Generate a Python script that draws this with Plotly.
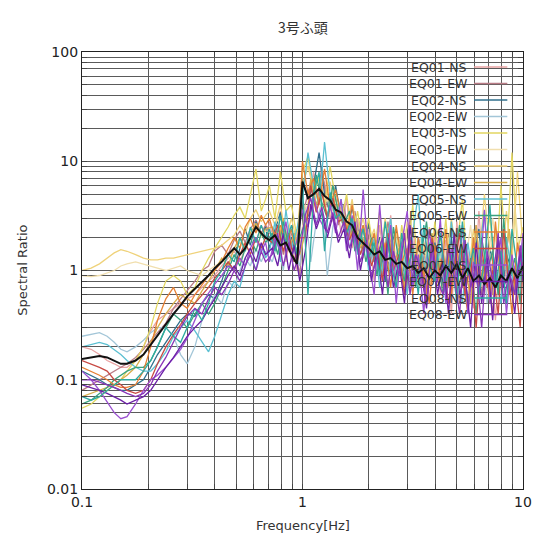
import plotly.graph_objects as go

# ---------------- data ----------------
F_LOW = [0.100, 0.110, 0.120, 0.130, 0.140, 0.150, 0.160, 0.175, 0.190, 0.205,
         0.220, 0.240, 0.260, 0.280, 0.300, 0.325, 0.350, 0.375, 0.400, 0.430,
         0.460, 0.490, 0.520, 0.550, 0.580, 0.615, 0.650, 0.680]
F_HIGH_A = [0.708, 0.750, 0.794, 0.841, 0.891, 0.944, 1.000, 1.059, 1.122, 1.189,
            1.259, 1.334, 1.413, 1.496, 1.585, 1.679, 1.778, 1.884, 1.995, 2.113,
            2.239, 2.371, 2.512, 2.661, 2.818, 2.985, 3.162, 3.350, 3.548, 3.758,
            3.981, 4.217, 4.467, 4.732, 5.012, 5.309, 5.623, 5.957, 6.310, 6.683,
            7.079, 7.499, 7.943, 8.414, 8.913, 9.441, 10.00]
F_HIGH_B = [0.729, 0.772, 0.818, 0.866, 0.917, 0.972, 1.029, 1.090, 1.155, 1.223,
            1.296, 1.373, 1.454, 1.540, 1.632, 1.728, 1.831, 1.939, 2.054, 2.176,
            2.305, 2.441, 2.586, 2.738, 2.901, 3.073, 3.255, 3.448, 3.652, 3.868,
            4.097, 4.340, 4.597, 4.870, 5.158, 5.464, 5.788, 6.131, 6.494, 6.879,
            7.286, 7.718, 8.175, 8.660, 9.173, 9.716, 10.00]

NAMES = ["EQ01-NS", "EQ01-EW", "EQ02-NS", "EQ02-EW", "EQ03-NS", "EQ03-EW",
         "EQ04-NS", "EQ04-EW", "EQ05-NS", "EQ05-EW", "EQ06-NS", "EQ06-EW",
         "EQ07-NS", "EQ07-EW", "EQ08-NS", "EQ08-EW"]

EQ01_NS = [0.2, 0.19, 0.17, 0.15, 0.14, 0.13, 0.13, 0.15, 0.2, 0.28, 0.35, 0.4, 0.45, 0.5,
           0.55, 0.6, 0.7, 0.8, 0.9, 1.1, 1.3, 1.5, 1.2, 1.6, 2.2, 1.8, 2.6, 2.0,
           2.8, 1.6, 3.5, 1.2, 2.4, 1.0,
           2.5, 3.2, 8.0, 4.0, 6.5, 3.0, 4.8,
           2.2, 4.5, 1.6, 3.0, 1.3, 2.4,
           0.8, 2.6, 1.0, 3.2, 0.7, 1.8, 0.6, 2.5, 0.9, 1.6, 0.5, 2.2,
           0.6, 1.9, 0.4, 2.8, 0.7, 1.5, 0.45, 3.5, 0.6, 1.4, 0.35, 2.0, 0.8, 1.2, 0.5, 1.6]
EQ01_EW = [0.08, 0.09, 0.10, 0.11, 0.12, 0.13, 0.14, 0.16, 0.19, 0.23, 0.27, 0.33, 0.45, 0.55,
           0.65, 0.8, 1.0, 1.1, 1.5, 1.7, 1.4, 1.9, 2.3, 1.8, 2.4, 2.9, 2.2, 2.6,
           2.0, 3.0, 1.4, 2.6, 1.8, 0.9,
           4.0, 6.5, 3.5, 9.0, 3.8, 5.0, 2.6,
           4.0, 2.0, 3.5, 1.8, 2.6, 1.2,
           2.0, 0.9, 2.8, 1.2, 1.6, 0.8, 3.0, 1.1, 0.7, 2.4, 1.0, 1.5,
           0.7, 2.2, 1.0, 0.5, 1.8, 0.9, 2.6, 0.6, 1.3, 0.4, 1.7, 0.9, 2.4, 0.6, 1.1, 0.8]
EQ02_NS = [0.12, 0.11, 0.10, 0.09, 0.085, 0.08, 0.08, 0.09, 0.1, 0.13, 0.17, 0.22, 0.28, 0.35,
           0.4, 0.38, 0.5, 0.6, 0.55, 0.8, 1.2, 1.0, 1.6, 2.4, 1.7, 2.8, 2.0, 2.5,
           1.6, 2.4, 3.4, 1.5, 2.0, 1.3,
           7.0, 4.5, 6.0, 12.0, 5.0, 3.5, 6.0,
           3.0, 2.0, 3.8, 2.2, 1.5, 2.8,
           1.2, 2.0, 0.8, 1.6, 2.4, 0.9, 1.4, 0.7, 2.0, 1.2, 0.8, 1.8,
           1.0, 0.6, 2.0, 0.8, 1.5, 0.5, 1.2, 2.4, 0.7, 1.6, 0.9, 0.5, 1.4, 1.0, 0.6, 1.3]
EQ02_EW = [0.25, 0.26, 0.27, 0.25, 0.22, 0.19, 0.18, 0.2, 0.23, 0.27, 0.3, 0.3, 0.25, 0.17,
           0.14, 0.2, 0.35, 0.45, 0.6, 0.5, 0.8, 0.7, 1.0, 1.3, 1.1, 1.6, 1.2, 1.5,
           1.2, 1.8, 1.0, 2.2, 1.5, 1.1,
           3.5, 1.2, 2.8, 4.2, 0.9, 2.5, 3.8,
           2.5, 1.6, 3.2, 1.4, 2.0, 1.2,
           1.8, 1.0, 1.4, 0.7, 2.0, 1.3, 0.8, 1.7, 1.1, 0.6, 1.5, 0.9,
           1.3, 0.7, 1.8, 1.0, 0.6, 1.4, 0.8, 2.0, 0.5, 1.2, 0.9, 1.6, 0.6, 1.1, 0.7, 1.4]
EQ03_NS = [0.055, 0.06, 0.07, 0.08, 0.09, 0.1, 0.12, 0.15, 0.2, 0.3, 0.5, 0.8, 0.9, 0.8,
           0.6, 0.7, 1.0, 1.3, 1.6, 2.0, 2.5, 3.2, 3.8, 3.0, 5.0, 8.5, 3.5, 4.5,
           6.0, 3.0, 8.0, 3.5, 4.0, 2.0,
           8.0, 11.0, 5.0, 7.0, 4.0, 9.0, 4.5,
           2.8, 5.0, 2.0, 3.5, 1.6, 3.0,
           1.4, 3.5, 1.0, 2.2, 0.8, 2.6, 1.2, 4.0, 0.9, 1.8, 0.7, 2.8,
           1.0, 3.0, 0.7, 1.6, 4.5, 0.9, 2.0, 0.6, 1.4, 3.2, 0.8, 6.0, 1.2, 12.0, 1.5, 2.5]
EQ03_EW = [0.9, 0.88, 0.9, 0.95, 1.0, 1.1, 1.15, 1.2, 1.15, 1.1, 1.05, 1.0, 1.05, 1.1,
           1.0, 0.95, 0.9, 1.0, 1.1, 1.2, 1.4, 1.6, 1.8, 1.5, 2.0, 2.5, 2.0, 2.3,
           2.2, 3.0, 1.8, 2.6, 2.0, 1.5,
           4.0, 3.2, 5.0, 3.6, 4.5, 2.8, 3.5,
           2.5, 3.0, 1.8, 2.4, 1.6, 2.0,
           1.5, 2.2, 1.2, 1.8, 1.0, 2.4, 1.4, 1.1, 2.0, 1.3, 0.9, 1.6,
           1.2, 2.0, 0.9, 1.5, 1.1, 2.6, 0.8, 1.4, 1.0, 3.0, 1.3, 1.8, 0.9, 4.0, 1.2, 1.6]
EQ04_NS = [1.0, 1.05, 1.15, 1.3, 1.45, 1.55, 1.5, 1.4, 1.3, 1.25, 1.25, 1.3, 1.3, 1.35,
           1.4, 1.45, 1.5, 1.55, 1.6, 1.7, 1.9, 2.1, 2.6, 2.2, 3.0, 3.6, 2.8, 3.2,
           3.5, 2.6, 4.0, 2.0, 3.0, 1.8,
           6.0, 9.0, 5.5, 7.5, 4.0, 6.5, 3.5,
           3.8, 2.5, 4.5, 2.0, 3.0, 1.7,
           2.4, 1.2, 3.0, 1.5, 2.2, 1.0, 2.8, 1.3, 1.8, 0.9, 2.5, 1.4,
           2.0, 1.0, 3.0, 1.3, 1.8, 0.8, 2.4, 1.1, 5.0, 1.5, 2.2, 0.9, 3.5, 1.2, 8.0, 1.6]
EQ04_EW = [0.07, 0.075, 0.08, 0.085, 0.09, 0.1, 0.11, 0.13, 0.17, 0.22, 0.3, 0.4, 0.5, 0.6,
           0.55, 0.5, 0.65, 0.8, 1.0, 1.3, 1.1, 1.6, 2.0, 1.6, 2.2, 2.7, 2.1, 2.4,
           2.5, 1.7, 3.0, 1.5, 2.2, 1.4,
           2.2, 7.0, 4.0, 5.5, 3.2, 4.8, 3.0,
           3.2, 2.0, 2.8, 1.6, 2.2, 1.4,
           1.9, 1.0, 2.4, 1.1, 1.6, 0.7, 2.0, 1.0, 1.5, 0.6, 2.2, 1.0,
           1.5, 0.7, 2.0, 0.9, 1.3, 0.5, 2.6, 0.8, 1.2, 0.6, 1.8, 1.0, 2.4, 0.7, 1.4, 1.0]
EQ05_NS = [0.2, 0.21, 0.22, 0.21, 0.19, 0.17, 0.15, 0.13, 0.12, 0.12, 0.14, 0.18, 0.25, 0.3,
           0.35, 0.28, 0.22, 0.18, 0.25, 0.4, 0.6, 0.8, 0.7, 1.1, 1.4, 1.0, 1.7, 1.3,
           1.5, 2.8, 1.2, 3.6, 1.6, 2.4,
           4.5, 12.0, 6.0, 4.0, 15.0, 5.0, 3.0,
           4.5, 1.8, 3.0, 1.4, 2.6, 1.0,
           2.0, 0.7, 1.6, 3.0, 0.9, 1.5, 0.6, 2.2, 5.0, 1.0, 1.8, 0.8,
           1.6, 0.6, 2.8, 1.0, 0.5, 1.8, 0.8, 1.4, 3.5, 0.7, 1.2, 0.5, 2.0, 0.9, 0.6, 1.5]
EQ05_EW = [0.06, 0.065, 0.075, 0.085, 0.1, 0.11, 0.12, 0.13, 0.13, 0.15, 0.2, 0.3, 0.4, 0.35,
           0.3, 0.4, 0.5, 0.4, 0.5, 0.7, 1.0, 1.4, 1.1, 1.6, 2.0, 1.5, 2.2, 1.8,
           2.2, 1.4, 2.8, 1.7, 1.2, 2.0,
           2.8, 3.5, 7.5, 4.2, 3.0, 6.0, 3.4,
           2.6, 3.5, 1.5, 2.4, 1.2, 2.0,
           0.9, 1.8, 0.6, 2.5, 1.2, 0.8, 2.0, 0.7, 1.4, 2.8, 0.9, 1.3,
           0.6, 1.7, 1.0, 2.6, 0.7, 1.2, 0.4, 2.0, 1.0, 1.5, 0.6, 3.0, 0.8, 1.3, 0.5, 1.8]
EQ06_NS = [0.13, 0.12, 0.11, 0.1, 0.09, 0.085, 0.085, 0.09, 0.12, 0.2, 0.35, 0.55, 0.7, 0.5,
           0.45, 0.6, 0.75, 0.9, 1.0, 1.2, 1.6, 2.0, 1.6, 2.5, 3.0, 2.2, 3.2, 2.6,
           3.0, 2.0, 2.6, 1.8, 2.4, 1.3,
           10.0, 5.0, 7.0, 4.0, 8.5, 3.8, 5.5,
           3.2, 2.2, 4.0, 1.8, 2.6, 1.5,
           2.2, 1.0, 1.8, 0.7, 2.6, 1.2, 1.6, 0.6, 2.0, 1.0, 0.5, 1.7,
           0.8, 2.4, 0.6, 1.5, 0.9, 0.4, 2.0, 0.7, 1.2, 0.5, 2.8, 0.8, 1.4, 0.4, 1.8, 0.9]
EQ06_EW = [0.15, 0.14, 0.13, 0.12, 0.1, 0.09, 0.08, 0.075, 0.08, 0.1, 0.14, 0.2, 0.26, 0.32,
           0.4, 0.5, 0.6, 0.7, 0.85, 1.0, 1.2, 1.0, 1.4, 1.8, 1.4, 2.0, 1.6, 2.0,
           1.8, 2.6, 1.5, 2.2, 1.2, 2.0,
           2.0, 6.0, 3.4, 5.2, 3.0, 4.6, 2.8,
           3.0, 1.9, 2.5, 1.4, 2.0, 1.1,
           1.6, 0.8, 2.2, 1.0, 1.4, 0.6, 1.9, 0.9, 1.2, 0.5, 2.0, 0.8,
           1.4, 0.5, 1.1, 2.2, 0.6, 1.3, 0.3, 1.6, 0.7, 1.0, 0.4, 2.4, 0.6, 0.9, 0.3, 1.2]
EQ07_NS = [0.12, 0.1, 0.08, 0.062, 0.05, 0.044, 0.046, 0.06, 0.08, 0.1, 0.11, 0.13, 0.16, 0.19,
           0.24, 0.35, 0.5, 0.62, 0.75, 0.9, 1.1, 1.0, 1.3, 1.1, 1.6, 2.0, 1.5, 1.8,
           1.2, 2.0, 1.5, 2.8, 1.3, 1.9,
           3.6, 2.5, 4.8, 3.0, 2.4, 4.0, 2.2,
           4.5, 1.5, 3.2, 1.0, 5.5, 1.3,
           0.6, 4.0, 0.9, 2.6, 0.5, 1.8, 3.5, 0.7, 1.4, 0.4, 2.4, 0.8,
           3.0, 0.5, 1.6, 0.8, 2.6, 0.4, 1.2, 0.6, 3.6, 0.5, 1.0, 2.0, 0.4, 1.4, 0.7, 2.2]
EQ07_EW = [0.09, 0.085, 0.08, 0.075, 0.07, 0.065, 0.06, 0.065, 0.07, 0.08, 0.1, 0.13, 0.16, 0.2,
           0.25, 0.3, 0.35, 0.45, 0.55, 0.7, 0.9, 1.1, 0.9, 1.3, 1.6, 1.2, 1.8, 1.4,
           1.6, 1.1, 2.2, 1.0, 1.7, 0.8,
           1.5, 4.0, 2.4, 3.4, 2.0, 3.2, 1.8,
           2.4, 1.3, 2.8, 1.0, 1.9, 0.8,
           1.5, 0.6, 2.0, 0.7, 1.2, 0.5, 2.6, 0.8, 1.0, 0.45, 1.8, 0.6,
           1.2, 0.4, 2.2, 0.6, 0.9, 0.3, 1.8, 0.5, 1.3, 0.35, 2.0, 0.7, 1.0, 0.4, 1.6, 0.8]
EQ08_NS = [0.07, 0.065, 0.07, 0.08, 0.09, 0.1, 0.1, 0.1, 0.12, 0.15, 0.2, 0.3, 0.25, 0.22,
           0.3, 0.45, 0.35, 0.5, 0.8, 1.0, 1.4, 1.2, 2.0, 1.5, 2.5, 1.8, 2.6, 2.0,
           2.4, 1.5, 3.2, 1.8, 2.6, 1.4,
           6.0, 0.6, 5.0, 8.0, 1.5, 5.2, 3.0,
           3.4, 2.2, 3.0, 1.5, 2.4, 1.3,
           1.8, 0.9, 2.8, 1.2, 0.7, 2.2, 1.0, 1.6, 0.6, 2.6, 1.1, 0.8,
           2.2, 0.8, 1.4, 0.5, 2.8, 0.9, 1.6, 0.6, 1.2, 4.0, 0.7, 1.5, 0.5, 2.4, 1.0, 1.3]
EQ08_EW = [0.1, 0.1, 0.095, 0.09, 0.085, 0.08, 0.075, 0.07, 0.075, 0.09, 0.12, 0.16, 0.22, 0.3,
           0.38, 0.45, 0.4, 0.55, 0.7, 0.6, 0.75, 1.0, 0.8, 1.1, 1.4, 1.0, 1.5, 1.2,
           1.4, 2.2, 1.1, 1.8, 1.0, 1.5,
           3.2, 4.6, 2.6, 3.8, 2.2, 3.4, 2.0,
           2.8, 1.6, 2.2, 1.2, 1.8, 0.9,
           1.3, 2.0, 0.7, 1.5, 0.9, 2.2, 0.6, 1.4, 1.0, 0.5, 1.7, 0.8,
           0.6, 1.6, 0.9, 0.4, 1.9, 0.7, 1.1, 0.3, 1.5, 0.8, 2.2, 0.5, 1.0, 0.6, 1.7, 0.9]
MEAN = [0.155, 0.16, 0.165, 0.16, 0.15, 0.14, 0.14, 0.15, 0.17, 0.21, 0.25, 0.32, 0.4, 0.48,
        0.58, 0.68, 0.78, 0.9, 1.05, 1.2, 1.4, 1.6, 1.4, 1.6, 2.0, 2.5, 2.2, 2.0,
        1.9, 2.1, 1.7, 1.8, 1.4, 1.15,
        6.5, 4.6, 5.0, 5.6, 4.8, 4.4, 3.6,
        3.4, 2.8, 2.6, 2.0, 1.8, 1.6,
        1.4, 1.5, 1.25, 1.3, 1.15, 1.2, 1.05, 1.1, 0.95, 1.05, 0.85, 1.0,
        0.9, 1.1, 0.95, 1.15, 0.85, 1.05, 0.8, 0.9, 0.75, 0.85, 0.7, 0.9, 0.8, 1.05, 0.85, 1.1]

SERIES = [EQ01_NS, EQ01_EW, EQ02_NS, EQ02_EW, EQ03_NS, EQ03_EW, EQ04_NS, EQ04_EW,
          EQ05_NS, EQ05_EW, EQ06_NS, EQ06_EW, EQ07_NS, EQ07_EW, EQ08_NS, EQ08_EW]
COLORS = ["#e9a3a3", "#b97c86", "#2f6f8c", "#a3c6d8", "#e2d660", "#f1dfae",
          "#efd27a", "#d8ae4c", "#5cc0d2", "#3aa27e", "#e58034", "#c84a44",
          "#9a4fd0", "#6b1fa6", "#2eaaa0", "#8a35b8"]

X_TICKS = [0.1, 0.2, 0.3, 0.4, 0.5, 0.6, 0.7, 0.8, 0.9, 1, 2, 3, 4, 5, 6, 7, 8, 9, 10]
X_TEXT = ["0.1", "", "", "", "", "", "", "", "", "1", "", "", "", "", "", "", "", "", "10"]
Y_TICKS = [0.01, 0.02, 0.03, 0.04, 0.05, 0.06, 0.07, 0.08, 0.09,
           0.1, 0.2, 0.3, 0.4, 0.5, 0.6, 0.7, 0.8, 0.9,
           1, 2, 3, 4, 5, 6, 7, 8, 9,
           10, 20, 30, 40, 50, 60, 70, 80, 90, 100]
Y_TEXT = ["0.01"] + [""] * 8 + ["0.1"] + [""] * 8 + ["1"] + [""] * 8 + ["10"] + [""] * 8 + ["100"]

# ---------------- figure ----------------
fig = go.Figure()
for i, (name, vals, col) in enumerate(zip(NAMES, SERIES, COLORS)):
    freqs = F_LOW + (F_HIGH_A if i % 2 == 0 else F_HIGH_B)
    fig.add_trace(go.Scatter(x=freqs, y=vals, mode="lines", name=name,
                             line=dict(color=col, width=1.3), showlegend=False))
fig.add_trace(go.Scatter(x=F_LOW + F_HIGH_A, y=MEAN, mode="lines", name="mean",
                         line=dict(color="#111111", width=2), showlegend=False))

# the page body has an 8px margin, so the figure starts at (8, 8) on screen
OFF = 8
W, H = 536, 528
L, R, T, B = 74, 12, 44, 47
pw, ph = W - L - R, H - T - B

def px_x(sx):
    return (sx - OFF - L) / pw

def px_y(sy):
    return (OFF + H - B - sy) / ph

shapes = [dict(type="rect", xref="paper", yref="paper", layer="between",
               x0=px_x(413), x1=px_x(531), y0=px_y(160), y1=px_y(53),
               fillcolor="white", line=dict(width=0))]
annotations = []
for i, (name, col) in enumerate(zip(NAMES, COLORS)):
    yy = 67 + i * 16.5
    annotations.append(dict(x=px_x(477), y=px_y(yy), xref="paper", yref="paper",
                            text=name, showarrow=False, xanchor="right", yanchor="middle",
                            font=dict(family="DejaVu Sans", size=12.5, color="#333333")))
    shapes.append(dict(type="line", xref="paper", yref="paper",
                       x0=px_x(482), x1=px_x(516), y0=px_y(yy), y1=px_y(yy),
                       line=dict(color=col, width=1.3)))

annotations.append(dict(x=0.5, y=px_y(525), xref="paper", yref="paper",
                        text="Frequency[Hz]", showarrow=False, yanchor="middle",
                        font=dict(family="DejaVu Sans", size=13, color="#333333")))
annotations.append(dict(x=px_x(21), y=0.5, xref="paper", yref="paper",
                        text="Spectral Ratio", showarrow=False, textangle=-90,
                        xanchor="center", yanchor="middle",
                        font=dict(family="DejaVu Sans", size=13, color="#333333")))
annotations.append(dict(x=0.5, y=px_y(27), xref="paper", yref="paper",
                        text="3号ふ頭", showarrow=False, yanchor="middle",
                        font=dict(family="Noto Sans CJK JP", size=14, color="#333333")))

grid = dict(showgrid=True, gridcolor="#5a5a5a", gridwidth=0.8,
            showline=True, linecolor="#222222", linewidth=1.2, mirror="ticks",
            ticks="inside", ticklen=5, tickcolor="#444444", zeroline=False,
            tickfont=dict(family="DejaVu Sans", size=14, color="#222222"))

fig.update_layout(
    width=W, height=H,
    margin=dict(l=L, r=R, t=T, b=B),
    paper_bgcolor="white", plot_bgcolor="white",
    shapes=shapes, annotations=annotations,
    xaxis=dict(type="log", range=[-1, 1], tickmode="array",
               tickvals=X_TICKS, ticktext=X_TEXT, **grid),
    yaxis=dict(type="log", range=[-2, 2], tickmode="array",
               tickvals=Y_TICKS, ticktext=Y_TEXT, **grid),
)

fig.write_html("out.html")
